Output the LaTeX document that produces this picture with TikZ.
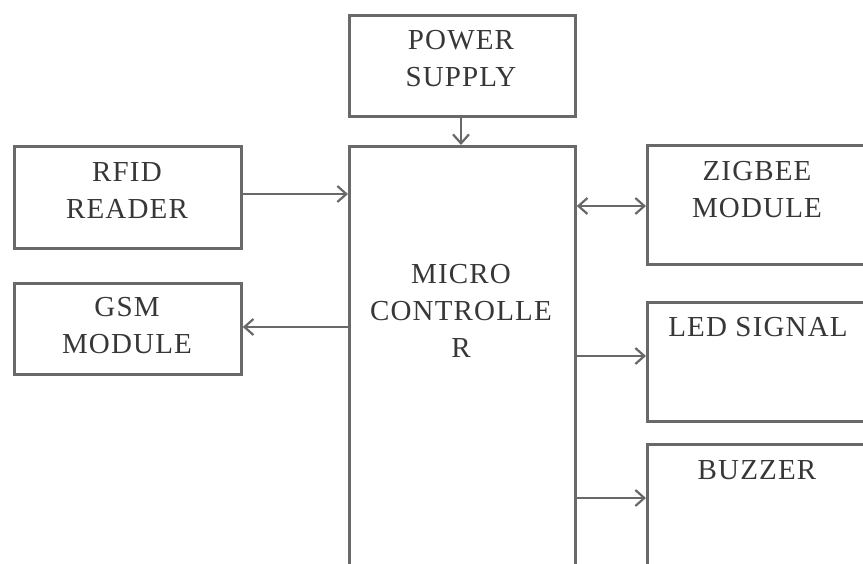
\documentclass[tikz,border=0pt]{standalone}
\usepackage{fontspec}
\setmainfont[LetterSpace=4]{Liberation Serif}
\usetikzlibrary{arrows.meta}
\definecolor{linegray}{RGB}{105,105,105}
\definecolor{textgray}{RGB}{55,55,55}
\tikzset{
  blockbox/.style={draw=linegray, line width=2.8pt, rectangle, inner sep=0pt, anchor=north west},
  blocktext/.style={text=textgray, font=\fontsize{29}{37}\selectfont, align=center, inner sep=0pt},
  conn/.style={draw=linegray, line width=2.8pt, -{Straight Barb[length=9pt,width=16pt,line width=2.2pt]}},
  bconn/.style={draw=linegray, line width=2.8pt, {Straight Barb[length=9pt,width=16pt,line width=2.2pt]}-{Straight Barb[length=9pt,width=16pt,line width=2.2pt]}}
}
\begin{document}
\begin{tikzpicture}[x=1pt,y=-1pt]
\useasboundingbox (0,0) rectangle (863,563);
\clip (0,0) rectangle (863,563);
\fill[white] (0,0) rectangle (863,563);
% boxes
\node[blockbox, minimum width=226pt, minimum height=101pt] (ps) at (348,14) {};
\node[blockbox, minimum width=227pt, minimum height=102pt] (rfid) at (13,145) {};
\node[blockbox, minimum width=227pt, minimum height=91pt] (gsm) at (13,282) {};
\node[blockbox, minimum width=226pt, minimum height=440pt] (mc) at (348,145) {};
\node[blockbox, minimum width=230pt, minimum height=119pt] (zig) at (646,144) {};
\node[blockbox, minimum width=230pt, minimum height=119pt] (led) at (646,301) {};
\node[blockbox, minimum width=230pt, minimum height=140pt] (buz) at (646,443) {};
% texts
\node[blocktext] (pst) at (461,59) {POWER\\SUPPLY};
\node[blocktext] (rfidt) at (127,191) {RFID\\READER};
\node[blocktext] (gsmt) at (127,326) {GSM\\MODULE};
\node[blocktext] (mct) at (461,311) {MICRO\\CONTROLLE\\R};
\node[blocktext] (zigt) at (757,190) {ZIGBEE\\MODULE};
\node[blocktext] (ledt) at (758,327) {LED SIGNAL};
\node[blocktext] (buzt) at (757,470) {BUZZER};
% connectors
\draw[conn] (ps.south -| 461,0) -- (mc.north -| 461,0);
\draw[conn] (rfid.east |- 0,194) -- (mc.west |- 0,194);
\draw[conn] (mc.west |- 0,327) -- (gsm.east |- 0,327);
\draw[bconn] (mc.east |- 0,206) -- (zig.west |- 0,206);
\draw[conn] (mc.east |- 0,356) -- (led.west |- 0,356);
\draw[conn] (mc.east |- 0,498) -- (buz.west |- 0,498);
\end{tikzpicture}
\end{document}
